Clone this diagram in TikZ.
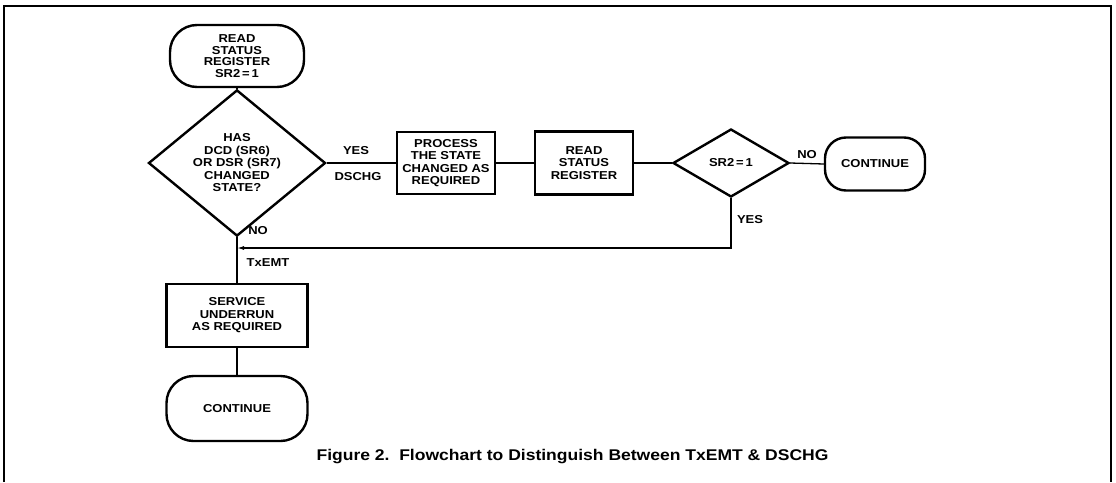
\documentclass[tikz,border=0pt]{standalone}
\usepackage{fontspec}
\newfontfamily\dfont[FakeStretch=1.13]{Liberation Sans}
\usetikzlibrary{shapes.geometric,arrows.meta}
\tikzset{
  base/.style={draw, line width=2.4pt, align=center, inner sep=0pt,
    font=\dfont\bfseries\fontsize{11.5}{12.5}\selectfont},
  term/.style={base, rectangle, rounded corners=#1},
  term/.default=24pt,
  procbox/.style={base, rectangle},
  decide/.style={base, diamond},
  conn/.style={line width=1.3pt},
  lbl/.style={font=\dfont\bfseries\fontsize{11.5}{12.5}\selectfont, inner sep=0pt},
  frame/.style={line width=1.6pt}
}
\begin{document}
\begin{tikzpicture}[x=1pt,y=-1pt]
\useasboundingbox (0,0) rectangle (1116,482);
\draw[frame] (4,482) -- (4,6) -- (1111,6) -- (1111,482);

\node[term=27pt, minimum width=134pt, minimum height=62pt,
  font=\dfont\bfseries\fontsize{11.5}{11.5}\selectfont] (t1) at (237,56)
  {READ\\STATUS\\REGISTER\\SR2\,=\,1};
\node[decide, minimum width=177pt, minimum height=101pt] (d1) at (237,163)
  {HAS\\DCD (SR6)\\OR DSR (SR7)\\CHANGED\\STATE?};
\node[procbox, minimum width=98pt, minimum height=62pt] (p1) at (446,163)
  {PROCESS\\THE STATE\\CHANGED AS\\REQUIRED};
\node[procbox, minimum width=98pt, minimum height=63pt] (r1) at (584,163)
  {READ\\STATUS\\REGISTER};
\node[decide, minimum width=116pt, minimum height=68pt] (d2) at (731,163)
  {SR2\,=\,1};
\node[term=21pt, minimum width=100pt, minimum height=53pt] (c1) at (875,164)
  {CONTINUE};
\node[procbox, minimum width=141pt, minimum height=63pt] (s1) at (237,315.5)
  {SERVICE\\UNDERRUN\\AS REQUIRED};
\node[term=27pt, minimum width=141pt, minimum height=65pt] (c2) at (237,408.5)
  {CONTINUE};
\coordinate (j) at (237,248);

\draw[conn] (t1.south) -- (d1.north);
\draw[conn] (d1.east) -- (p1.west);
\draw[conn] (p1.east) -- (r1.west);
\draw[conn] (r1.east) -- (d2.west);
\draw[conn] (d2.east) -- (c1.west);
\draw[conn] (d1.south) -- (s1.north);
\draw[conn] (s1.south) -- (c2.north);
\draw[conn, -{Latex[length=7pt,width=4pt]}] (d2.south) |- (j);

\node[lbl] (yes1) at (356,151) {YES};
\node[lbl] (dschg) at (358,177) {DSCHG};
\node[lbl] (no2) at (807,155) {NO};
\node[lbl] (yes2) at (750,220) {YES};
\node[lbl] (no1) at (258,231) {NO};
\node[lbl] (txemt) at (268,263) {TxEMT};

\node[font=\dfont\bfseries\fontsize{15.5}{18}\selectfont, inner sep=0pt, anchor=base]
  (cap) at (572.5,460) {Figure 2.\ \ Flowchart to Distinguish Between TxEMT \& DSCHG};
\end{tikzpicture}
\end{document}
